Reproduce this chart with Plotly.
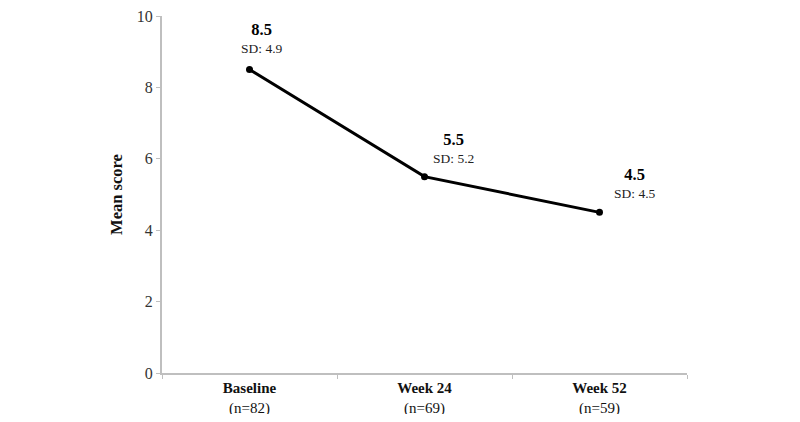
import plotly.graph_objects as go

categories = ["Baseline", "Week 24", "Week 52"]
n_values = [82, 69, 59]
means = [8.5, 5.5, 4.5]
sds = [4.9, 5.2, 4.5]
y_ticks = [0, 2, 4, 6, 8, 10]

tick_text = [f"<b>{c}</b><br>({'n=' + str(n)})" for c, n in zip(categories, n_values)]

FONT = "Liberation Serif, Times New Roman, serif"

fig = go.Figure()
fig.add_trace(go.Scatter(
    x=categories, y=means, mode="lines+markers",
    line=dict(color="black", width=3),
    marker=dict(color="black", size=7),
    showlegend=False, hoverinfo="skip",
))

label_xshift = [12, 29, 35]
label_yshift = [32, 29, 29]
for i, (c, m, s) in enumerate(zip(categories, means, sds)):
    fig.add_annotation(
        x=c, y=m, xref="x", yref="y",
        text=f"<span style='font-size:16.5px;color:black'><b>{m}</b></span><br>SD: {s}",
        showarrow=False, xshift=label_xshift[i], yshift=label_yshift[i],
        align="center", font=dict(family=FONT, size=13.5, color="#222"))

# The page body adds an 8px margin, so the figure is sized to fit inside 800x422.
fig.update_layout(
    width=784, height=406,
    margin=dict(l=154, r=105, t=8, b=41),
    paper_bgcolor="white", plot_bgcolor="white",
    font=dict(family=FONT, color="#222"),
    xaxis=dict(
        type="category", tickmode="array", tickvals=categories, ticktext=tick_text,
        tickson="boundaries", ticks="outside", ticklen=4, tickcolor="#bfbfbf",
        showline=True, linecolor="#bfbfbf", linewidth=2, showgrid=False,
        tickfont=dict(family=FONT, size=15, color="#111"), range=[-0.5, 2.5],
        zeroline=False, automargin=False, ticklabeloverflow="allow",
    ),
    yaxis=dict(
        range=[0, 10], tickvals=y_ticks, ticks="outside", ticklen=4, tickcolor="#bfbfbf",
        showline=True, linecolor="#bfbfbf", linewidth=2, showgrid=False, zeroline=False,
        tickfont=dict(family=FONT, size=16, color="#333"), automargin=False,
        ticklabeloverflow="allow",
        title=dict(text="<b>Mean score</b>", font=dict(family=FONT, size=16.5, color="#111"),
                   standoff=10),
    ),
)

fig.write_html("out.html")
